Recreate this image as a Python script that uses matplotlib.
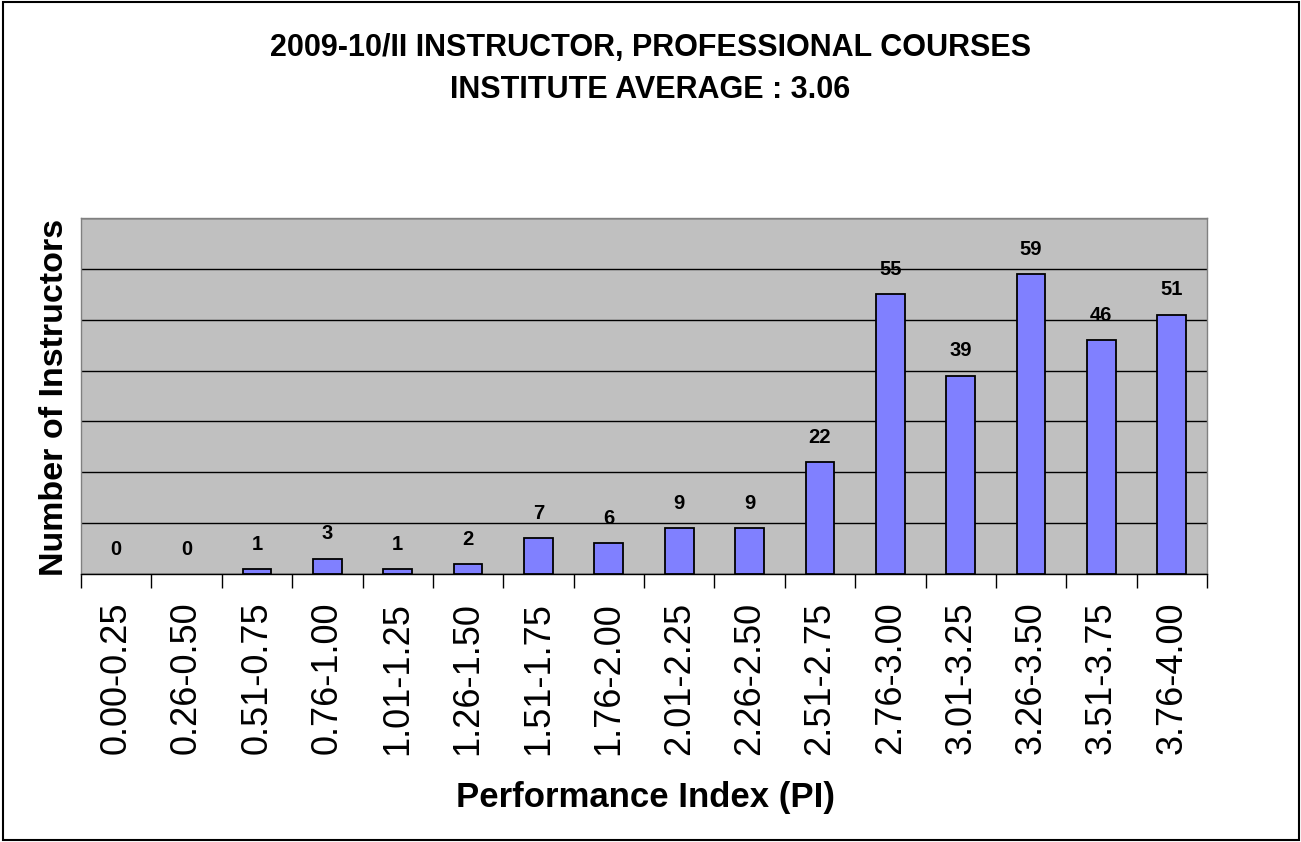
import numpy as np
import matplotlib.pyplot as plt
from matplotlib.patches import Rectangle

plt.rcParams['font.family'] = ['Liberation Sans', 'DejaVu Sans']

# Data
pi_ranges = ["0.00-0.25", "0.26-0.50", "0.51-0.75", "0.76-1.00",
             "1.01-1.25", "1.26-1.50", "1.51-1.75", "1.76-2.00",
             "2.01-2.25", "2.26-2.50", "2.51-2.75", "2.76-3.00",
             "3.01-3.25", "3.26-3.50", "3.51-3.75", "3.76-4.00"]
instructors = [0, 0, 1, 3, 1, 2, 7, 6, 9, 9, 22, 55, 39, 59, 46, 51]

W, H = 1301, 842
fig = plt.figure(figsize=(W / 100, H / 100), dpi=100)

# plot area in pixels: left 81, right 1207, top 218, bottom 574
ax = fig.add_axes([81 / W, 1 - 574 / H, (1207 - 81) / W, (574 - 218) / H])
ax.set_facecolor("#C0C0C0")

x = np.arange(len(pi_ranges))
# empty categories show no bar outline at all
edges = ["black" if v > 0 else "none" for v in instructors]
ax.bar(x, instructors, width=0.41, color="#8080FF", edgecolor=edges,
       linewidth=1.3, zorder=3)

for xi, v in zip(x, instructors):
    ax.annotate(str(v), (xi, v), xytext=(0, 11), textcoords="offset points",
                ha="center", va="bottom", fontsize=14.5, fontweight="bold",
                zorder=4)

ax.set_xlim(-0.5, len(pi_ranges) - 0.5)
ax.set_ylim(0, 70)
ax.set_yticks(np.arange(0, 71, 10))
ax.yaxis.grid(True, color="black", linewidth=1.0, zorder=1)
ax.tick_params(axis="y", left=False, labelleft=False)

# ticks between categories, labels centered on bars
ax.set_xticks(np.arange(-0.5, len(pi_ranges), 1.0))
ax.set_xticklabels([])
ax.set_xticks(x, minor=True)
ax.set_xticklabels(pi_ranges, minor=True, rotation=90, fontsize=26)
ax.tick_params(axis="x", which="major", direction="out", length=10,
               width=1.0, color="black")
ax.tick_params(axis="x", which="minor", length=0, pad=20)

for side in ["left", "top", "right"]:
    ax.spines[side].set_color("#808080")
    ax.spines[side].set_linewidth(1.0)
ax.spines["bottom"].set_color("black")
ax.spines["bottom"].set_linewidth(1.0)

fig.text(645 / W, 1 - 797 / H, "Performance Index (PI)", ha="center",
         va="center", fontsize=25, fontweight="bold")
fig.text(55 / W, 1 - 397 / H, "Number of Instructors", rotation=90,
         ha="center", va="center", fontsize=24.5, fontweight="bold")

fig.text(0.5, 1 - 48 / H, "2009-10/II INSTRUCTOR, PROFESSIONAL COURSES",
         ha="center", va="center", fontsize=22, fontweight="bold")
fig.text(0.5, 1 - 90 / H, "INSTITUTE AVERAGE : 3.06",
         ha="center", va="center", fontsize=22, fontweight="bold")

# outer chart border
fig.patches.append(Rectangle((3 / W, 2 / H), (W - 5) / W, (H - 4) / H,
                             transform=fig.transFigure, fill=False,
                             edgecolor="black", linewidth=1.5))

fig.savefig("out.png", dpi=100)
